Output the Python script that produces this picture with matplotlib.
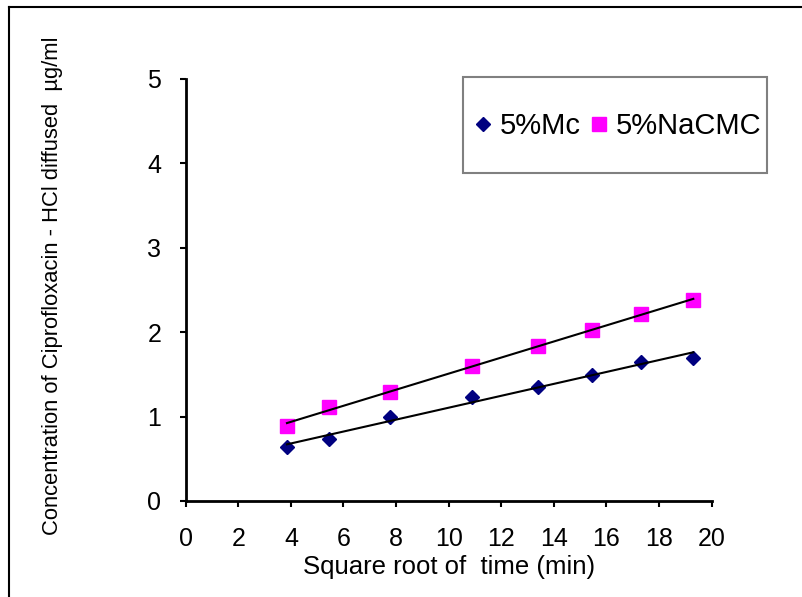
import numpy as np
import matplotlib
matplotlib.use('Agg')
import matplotlib.pyplot as plt
from matplotlib.lines import Line2D
from matplotlib.patches import Rectangle

# square root of time (min)
sqrt_time = [3.85, 5.45, 7.75, 10.9, 13.4, 15.45, 17.3, 19.3]
# concentration diffused (ug/ml)
mc_5 = [0.64, 0.74, 0.99, 1.23, 1.35, 1.49, 1.65, 1.70]
nacmc_5 = [0.89, 1.11, 1.29, 1.60, 1.84, 2.03, 2.21, 2.38]
series_names = ['5%Mc', '5%NaCMC']

x_ticks = [0, 2, 4, 6, 8, 10, 12, 14, 16, 18, 20]
y_ticks = [0, 1, 2, 3, 4, 5]

W, H = 803, 597


def main():
	plt.rcParams['font.family'] = ['Liberation Sans', 'DejaVu Sans']
	fig = plt.figure(figsize=(W / 100, H / 100), dpi=100)
	ax = fig.add_axes([185.7 / W, 1 - 501 / H, 526 / W, 422 / H])

	x = np.array(sqrt_time)
	ax.plot(x, mc_5, linestyle='none', marker='D', markersize=7.3,
	        color='#000080', label=series_names[0], zorder=2)
	ax.plot(x, nacmc_5, linestyle='none', marker='s', markersize=10,
	        color='#ff00ff', label=series_names[1], zorder=2)

	# linear trend lines
	for y in (mc_5, nacmc_5):
		m, c = np.polyfit(x, y, 1)
		xx = np.array([x[0], x[-1]])
		ax.plot(xx, m * xx + c, color='black', lw=1.5, zorder=3)

	ax.set_xlim(0, 20)
	ax.set_ylim(0, 5)
	ax.set_xticks(x_ticks)
	ax.set_yticks(y_ticks)
	for s in ['top', 'right']:
		ax.spines[s].set_visible(False)
	for s in ['left', 'bottom']:
		ax.spines[s].set_linewidth(2)
	ax.tick_params(direction='out', length=4.5, width=1.5, labelsize=18,
	               colors='black')
	ax.tick_params(axis='x', pad=14)
	ax.tick_params(axis='y', pad=13)

	ax.set_xlabel('Square root of  time (min)', fontsize=18.5, labelpad=3)
	fig.text(53 / W, 1 - 286 / H,
	         'Concentration of Ciprofloxacin - HCl diffused  \u00b5g/ml',
	         rotation=90, ha='center', va='center', fontsize=15.8)

	# legend with its own box
	fig.add_artist(Rectangle((463 / W, 1 - 173 / H), 304 / W, 96 / H,
	                         transform=fig.transFigure, fill=False,
	                         edgecolor='#808080', lw=1.5))
	ax.legend(loc='center left', bbox_to_anchor=(474 / W, 1 - 126 / H),
	          bbox_transform=fig.transFigure, ncol=2, frameon=False,
	          fontsize=21, handlelength=0.6, handletextpad=0.3,
	          columnspacing=0.3, borderpad=0, borderaxespad=0)

	# outer frame (top and left only)
	fig.add_artist(Line2D([9 / W, 9 / W], [0, 1 - 7 / H],
	                      transform=fig.transFigure, color='black', lw=1.5))
	fig.add_artist(Line2D([9 / W, 1], [1 - 7 / H, 1 - 7 / H],
	                      transform=fig.transFigure, color='black', lw=1.5))

	fig.savefig('out.png', dpi=100)


if __name__ == "__main__":
	main()
